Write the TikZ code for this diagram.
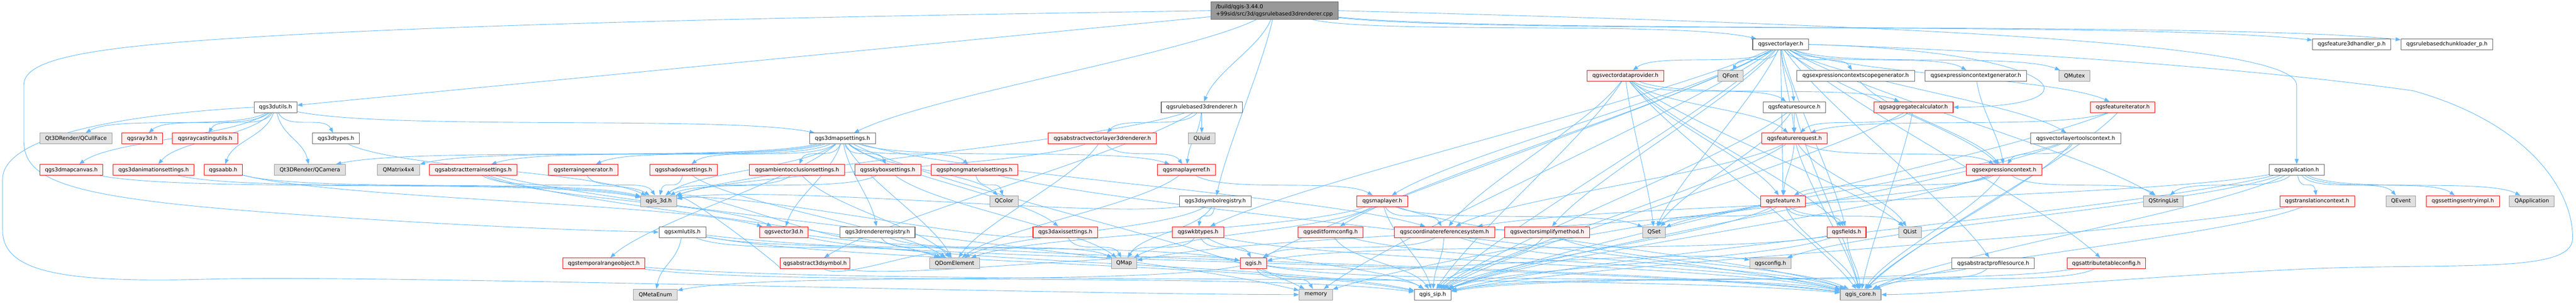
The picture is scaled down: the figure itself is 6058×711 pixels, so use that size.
\documentclass[tikz,border=0pt]{standalone}
\usepackage{fontspec}
\setmainfont{DejaVu Sans}
\usetikzlibrary{arrows.meta,calc}
\pgfdeclarelayer{bg}
\pgfsetlayers{bg,main}
\definecolor{edgec}{HTML}{63B8FF}
\definecolor{wborder}{HTML}{666666}
\definecolor{rfill}{HTML}{FFF0F0}
\definecolor{gfill}{HTML}{E0E0E0}
\definecolor{gborder}{HTML}{999999}
\definecolor{mfill}{HTML}{999999}
\newcommand\mkn[6]{\node[#5,minimum width={#3-#2}] (#1) at ({(#2+#3)/2},#4) {#6};}
\newcommand\mke[2]{\draw[edg] (#1) to[sc] (#2);}
\begin{document}
\begin{tikzpicture}[x=1pt,y=-1pt,
  nbase/.style={draw,rectangle,inner sep=0pt,minimum height=25.5pt,line width=1.3pt,font=\fontsize{12.7}{15}\selectfont,text=black},
  wbox/.style={nbase,draw=wborder,fill=white},
  rbox/.style={nbase,draw=red,fill=rfill},
  gbox/.style={nbase,draw=gborder,fill=gfill},
  mbox/.style={nbase,draw=wborder,fill=mfill,align=left,minimum height=40.6pt,font=\fontsize{12.7}{16.7}\selectfont},
  edg/.style={draw=edgec,line width=1.1pt,-{Triangle[length=12pt,width=9pt]}},
  sc/.style={to path={.. controls ($(\tikztostart)!0.2!(\tikztotarget)+(0,40)$) and ($(\tikztotarget)!0.2!(\tikztostart)+(0,-40)$) .. (\tikztotarget) \tikztonodes}}
]
\useasboundingbox (0,0) rectangle (6058,711);
% row 0
\node[mbox,minimum width=299.4pt] (main) at (2997,25) {/build/qgis-3.44.0\\+99sid/src/3d/qgsrulebased3drenderer.cpp};
% row 1
\mkn{vl}{4121.8}{4253.2}{104.3}{wbox}{qgsvectorlayer.h}
\mkn{fdh}{5438.6}{5622.1}{104.3}{wbox}{qgsfeature3dhandler\_p.h}
\mkn{rbcl}{5646.4}{5862.3}{104.3}{wbox}{qgsrulebasedchunkloader\_p.h}
% row 2
\mkn{vdp}{3732.1}{3912.6}{178.2}{rbox}{qgsvectordataprovider.h}
\mkn{qfont}{4039.5}{4099.5}{178.2}{gbox}{QFont}
\mkn{ecsg}{4225.1}{4502.6}{178.2}{wbox}{qgsexpressioncontextscopegenerator.h}
\mkn{ecg}{4527.4}{4766}{178.2}{wbox}{qgsexpressioncontextgenerator.h}
\mkn{qmutex}{4841.8}{4915.2}{178.2}{gbox}{QMutex}
% row 3
\mkn{u3d}{597.6}{698.3}{251.7}{wbox}{qgs3dutils.h}
\mkn{rb3dh}{2730.9}{2921.6}{251.7}{wbox}{qgsrulebased3drenderer.h}
\mkn{fsrc}{4146.7}{4292.7}{251.7}{wbox}{qgsfeaturesource.h}
\mkn{aggc}{4406.9}{4593.1}{251.7}{rbox}{qgsaggregatecalculator.h}
\mkn{fit}{4916.5}{5067.5}{251.7}{rbox}{qgsfeatureiterator.h}
% row 4
\mkn{qcull}{93.8}{263.4}{325.2}{gbox}{Qt3DRender/QCullFace}
\mkn{ray}{287}{382}{325.2}{rbox}{qgsray3d.h}
\mkn{rcu}{405.6}{559.3}{325.2}{rbox}{qgsraycastingutils.h}
\mkn{t3d}{735.3}{845}{325.2}{wbox}{qgs3dtypes.h}
\mkn{ms3d}{1903.7}{2058.7}{325.2}{wbox}{qgs3dmapsettings.h}
\mkn{avl3d}{2465}{2719.4}{325.2}{rbox}{qgsabstractvectorlayer3drenderer.h}
\mkn{quuid}{2794.6}{2857.8}{325.2}{gbox}{QUuid}
\mkn{freq}{4143.5}{4296.6}{325.2}{rbox}{qgsfeaturerequest.h}
\mkn{vltc}{4775.5}{4987.2}{325.2}{wbox}{qgsvectorlayertoolscontext.h}
% row 5
\mkn{mc3d}{93.8}{241.7}{398.8}{rbox}{qgs3dmapcanvas.h}
\mkn{anim}{266}{456.6}{398.8}{rbox}{qgs3danimationsettings.h}
\mkn{aabb}{480}{569.5}{398.8}{rbox}{qgsaabb.h}
\mkn{qcam}{645.4}{812.5}{398.8}{gbox}{Qt3DRender/QCamera}
\mkn{qmat}{887.7}{986.7}{398.8}{gbox}{QMatrix4x4}
\mkn{ats}{1010.2}{1215.6}{398.8}{rbox}{qgsabstractterrainsettings.h}
\mkn{tgen}{1290.2}{1453.4}{398.8}{rbox}{qgsterraingenerator.h}
\mkn{shad}{1528}{1687.5}{398.8}{rbox}{qgsshadowsettings.h}
\mkn{ao}{1762.8}{1986.6}{398.8}{rbox}{qgsambientocclusionsettings.h}
\mkn{sky}{2010.2}{2165.2}{398.8}{rbox}{qgsskyboxsettings.h}
\mkn{phong}{2190}{2393.5}{398.8}{rbox}{qgsphongmaterialsettings.h}
\mkn{mlref}{2722}{2858.4}{398.8}{rbox}{qgsmaplayerref.h}
\mkn{ectx}{4624.4}{4801.7}{398.8}{rbox}{qgsexpressioncontext.h}
\mkn{app}{5336.7}{5465.6}{398.8}{wbox}{qgsapplication.h}
% row 6
\mkn{q3d}{1507}{1591.2}{472.1}{gbox}{qgis\_3d.h}
\mkn{qcolor}{2327.8}{2394.8}{472.1}{gbox}{QColor}
\mkn{symreg}{2773.6}{2942.6}{472.1}{wbox}{qgs3dsymbolregistry.h}
\mkn{ml}{3190.7}{3310.6}{472.1}{rbox}{qgsmaplayer.h}
\mkn{feat}{4141}{4245.5}{472.1}{rbox}{qgsfeature.h}
\mkn{qsl}{5041.2}{5134.3}{472.1}{gbox}{QStringList}
\mkn{trc}{5361.7}{5537.1}{472.1}{rbox}{qgstranslationcontext.h}
\mkn{qevent}{5612}{5680.8}{472.1}{gbox}{QEvent}
\mkn{sei}{5705.8}{5877.9}{472.1}{rbox}{qgssettingsentryimpl.h}
\mkn{qapp}{5901.5}{6006.7}{472.1}{gbox}{QApplication}
% row 7
\mkn{xml}{1549.7}{1660}{544.7}{wbox}{qgsxmlutils.h}
\mkn{v3d}{1786.4}{1900.5}{544.7}{rbox}{qgsvector3d.h}
\mkn{rreg}{1975.8}{2151.8}{544.7}{wbox}{qgs3drendererregistry.h}
\mkn{axis}{2429.2}{2581.6}{544.7}{rbox}{qgs3daxissettings.h}
\mkn{wkb}{2757}{2877.6}{544.7}{rbox}{qgswkbtypes.h}
\mkn{efc}{3052.9}{3205.4}{544.7}{rbox}{qgseditformconfig.h}
\mkn{crs}{3278.7}{3515.3}{544.7}{rbox}{qgscoordinatereferencesystem.h}
\mkn{vsm}{3538.3}{3738.5}{544.7}{rbox}{qgsvectorsimplifymethod.h}
\mkn{qset}{3863.5}{3916.5}{544.7}{gbox}{QSet}
\mkn{fields}{4296.6}{4388.4}{544.7}{rbox}{qgsfields.h}
\mkn{qlist}{4464.9}{4518.5}{544.7}{gbox}{QList}
% row 8
\mkn{tro}{1323.3}{1516.6}{618.1}{rbox}{qgstemporalrangeobject.h}
\mkn{a3ds}{1835.5}{1998}{618.1}{rbox}{qgsabstract3dsymbol.h}
\mkn{qdom}{2186.2}{2303.6}{618.1}{gbox}{QDomElement}
\mkn{qmap}{2613.5}{2673.5}{618.1}{gbox}{QMap}
\mkn{qgis}{2916.5}{2979}{618.1}{rbox}{qgis.h}
\mkn{cfg}{4115.4}{4211.7}{618.1}{gbox}{qgsconfig.h}
\mkn{aps}{4590.6}{4784.4}{618.1}{wbox}{qgsabstractprofilesource.h}
\mkn{atc}{4861}{5045.9}{618.1}{rbox}{qgsattributetableconfig.h}
% row 9
\mkn{qme}{1489.8}{1592.5}{691.6}{gbox}{QMetaEnum}
\mkn{mem}{3055.5}{3133.3}{691.6}{gbox}{memory}
\mkn{sip}{3325.9}{3412.6}{691.6}{wbox}{qgis\_sip.h}
\mkn{core}{4327.8}{4423.5}{691.6}{gbox}{qgis\_core.h}

\begin{pgfonlayer}{bg}
% main
\draw[edg] (main) -- (u3d);
\draw[edg] (main.west) .. controls (2000,38) and (1000,55) .. (446,97) .. controls (150,120) and (56,150) .. (56,200) -- (56,330) .. controls (56,420) and (150,460) .. (574,494) .. controls (900,520) and (1300,540) .. (xml.west);
\mke{main}{ms3d}
\mke{main}{rb3dh}
\mke{main}{symreg}
\mke{main}{vl}
\mke{main}{fdh}
\mke{main}{rbcl}
\draw[edg] (main.east) .. controls (4500,60) and (5401,100) .. (5401,200) -- (app.north);
% qgs3dutils
\mke{u3d}{qcull}
\mke{u3d}{ray}
\mke{u3d}{rcu}
\mke{u3d}{mc3d}
\mke{u3d}{anim}
\mke{u3d}{aabb}
\mke{u3d}{t3d}
\mke{u3d}{qcam}
\mke{u3d}{ms3d}
\draw[edg] (u3d.west) .. controls (400,262) and (8,300) .. (6,420) -- (6,540) .. controls (6,640) and (150,665) .. (500,655) .. controls (900,645) and (2400,690) .. (mem.west);
\mke{t3d}{q3d}
\mke{mc3d}{q3d}
\mke{anim}{q3d}
\mke{aabb}{q3d}
\mke{aabb}{v3d}
% qgs3dmapsettings
\mke{ms3d}{qcam}
\mke{ms3d}{qmat}
\mke{ms3d}{ats}
\mke{ms3d}{tgen}
\mke{ms3d}{shad}
\mke{ms3d}{ao}
\mke{ms3d}{sky}
\mke{ms3d}{phong}
\mke{ms3d}{mlref}
\mke{ms3d}{qcolor}
\mke{ms3d}{axis}
\mke{ms3d}{rreg}
\mke{ms3d}{v3d}
\mke{ms3d}{tro}
\mke{ms3d}{crs}
\mke{ms3d}{q3d}
\mke{ms3d}{qdom}
\mke{ms3d}{mem}
\mke{ats}{q3d}
\mke{ats}{v3d}
\mke{ats}{qdom}
\mke{ats}{mem}
\mke{tgen}{q3d}
\mke{shad}{q3d}
\mke{shad}{qdom}
\mke{ao}{q3d}
\mke{ao}{qdom}
\mke{sky}{q3d}
\mke{sky}{qmap}
\mke{phong}{qcolor}
\mke{phong}{core}
% rulebased renderer header
\mke{rb3dh}{q3d}
\mke{rb3dh}{avl3d}
\mke{rb3dh}{quuid}
\mke{rb3dh}{mlref}
\mke{rb3dh}{a3ds}
\mke{avl3d}{q3d}
\mke{avl3d}{mlref}
\mke{avl3d}{qdom}
\mke{mlref}{ml}
\mke{mlref}{qdom}
\mke{symreg}{wkb}
\mke{symreg}{qmap}
\mke{symreg}{q3d}
\mke{symreg}{qdom}
\mke{wkb}{qmap}
\mke{wkb}{qgis}
\mke{wkb}{core}
\mke{wkb}{sip}
\mke{axis}{qmap}
\mke{axis}{q3d}
\mke{rreg}{q3d}
\mke{rreg}{qmap}
\mke{rreg}{qdom}
\mke{xml}{qme}
\mke{xml}{qdom}
\mke{xml}{core}
\mke{xml}{sip}
\mke{xml}{qgis}
\mke{v3d}{core}
\mke{v3d}{sip}
\mke{tro}{core}
\mke{tro}{sip}
\mke{a3ds}{q3d}
\mke{a3ds}{qgis}
\mke{a3ds}{qdom}
\mke{qgis}{qme}
\mke{qgis}{mem}
\mke{qgis}{core}
\mke{qgis}{sip}
\mke{qgis}{cfg}
\mke{ml}{crs}
\mke{ml}{qset}
\mke{ml}{core}
\mke{ml}{sip}
\mke{ml}{qdom}
\mke{ml}{qmap}
\mke{efc}{sip}
\mke{efc}{core}
\mke{crs}{sip}
\mke{crs}{core}
\mke{crs}{qgis}
\mke{vsm}{sip}
\mke{vsm}{core}
% vector layer
\mke{vl}{qfont}
\mke{vl}{ecsg}
\mke{vl}{ecg}
\mke{vl}{qmutex}
\mke{vl}{vdp}
\mke{vl}{fsrc}
\draw[edg] (vl.east) .. controls (4850,120) and (4960,250) .. (aggc.east);
\mke{vl}{fit}
\mke{vl}{freq}
\mke{vl}{vltc}
\mke{vl}{ectx}
\mke{vl}{feat}
\mke{vl}{fields}
\mke{vl}{ml}
\mke{vl}{efc}
\mke{vl}{vsm}
\mke{vl}{qset}
\mke{vl}{wkb}
\mke{vl}{qgis}
\mke{vl}{qsl}
\mke{vl}{atc}
\mke{vl}{aps}
\mke{vl}{sip}
\mke{vl}{mem}
\draw[edg] (vl.east) .. controls (4700,118) and (5300,160) .. (5675,213) .. controls (5950,290) and (6052,450) .. (6050,560) .. controls (6048,640) and (5800,618) .. (5450,630) .. controls (5000,650) and (4600,690) .. (core.east);
\mke{vdp}{fsrc}
\mke{vdp}{aggc}
\mke{vdp}{freq}
\mke{vdp}{qset}
\mke{vdp}{crs}
\mke{vdp}{feat}
\mke{vdp}{fields}
\mke{vdp}{qlist}
\mke{vdp}{core}
\mke{vdp}{sip}
\mke{fsrc}{freq}
\mke{fsrc}{qset}
\mke{fsrc}{core}
\mke{fsrc}{sip}
\mke{aggc}{freq}
\mke{aggc}{core}
\mke{aggc}{sip}
\mke{fit}{freq}
\mke{fit}{core}
\mke{fit}{sip}
\mke{freq}{ectx}
\mke{freq}{feat}
\mke{freq}{qlist}
\mke{freq}{core}
\mke{freq}{sip}
\mke{freq}{crs}
\mke{ectx}{feat}
\mke{ectx}{core}
\mke{ectx}{sip}
\mke{ectx}{qset}
\mke{ectx}{qsl}
\mke{ecsg}{ectx}
\mke{ecg}{ectx}
\mke{feat}{fields}
\mke{feat}{qlist}
\mke{feat}{core}
\mke{feat}{sip}
\mke{feat}{qset}
\mke{feat}{qmap}
\mke{fields}{core}
\mke{fields}{sip}
\mke{fields}{qgis}
\mke{vltc}{ectx}
\mke{vltc}{core}
\mke{vltc}{sip}
\mke{vltc}{mem}
\mke{aps}{core}
\mke{aps}{sip}
\mke{atc}{core}
\mke{atc}{sip}
% application
\mke{app}{qsl}
\mke{app}{trc}
\mke{app}{qevent}
\mke{app}{sei}
\mke{app}{qapp}
\mke{app}{core}
\mke{app}{sip}
\mke{app}{cfg}
\mke{app}{crs}
\mke{trc}{core}
\mke{trc}{sip}
\end{pgfonlayer}
\end{tikzpicture}
\end{document}
